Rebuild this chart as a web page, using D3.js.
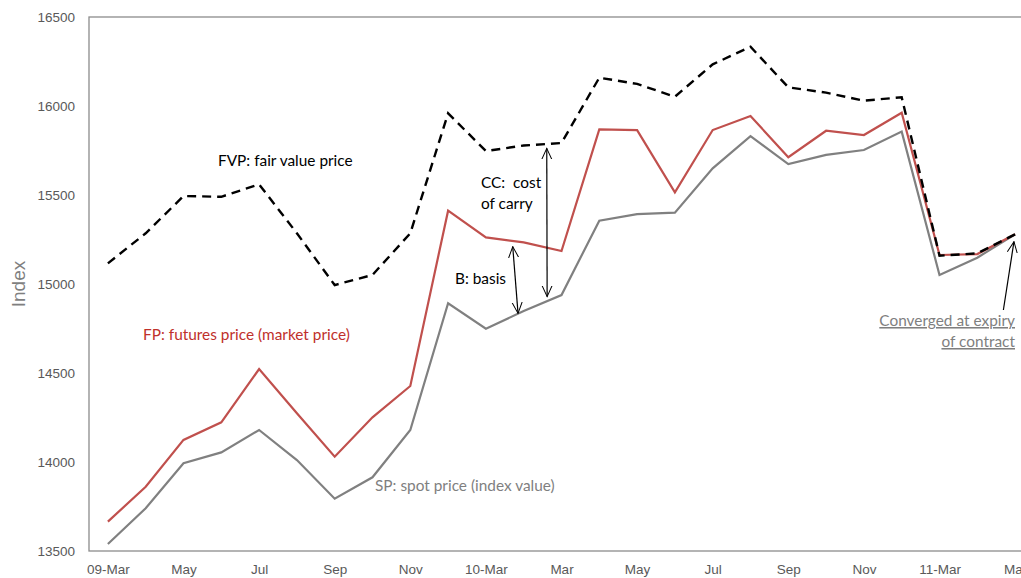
<!DOCTYPE html>
<html>
<head>
<meta charset="utf-8">
<script src="https://cdn.jsdelivr.net/npm/d3@7"></script>
<style>
  body { margin: 0; background: #fff; }
  svg { display: block; }
  .note { font-family: Lato, "Open Sans", sans-serif; font-size: 15.4px; }
</style>
</head>
<body>
<svg width="1021" height="578"></svg>
<script>
// monthly points, Mar 2009 .. Mar 2011
const tickLabels = ['09-Mar', 'May', 'Jul', 'Sep', 'Nov', '10-Mar', 'Mar', 'May', 'Jul', 'Sep', 'Nov', '11-Mar', 'Mar'];

const spotPrice = [13539, 13740, 13993, 14054, 14180, 14011, 13794, 13914, 14180, 14892,
    14749, 14848, 14938, 15356, 15393, 15401, 15650, 15831, 15674, 15725,
    15753, 15856, 15051, 15148, 15279];

const futuresPrice = [13665, 13861, 14124, 14223, 14522, 14274, 14030, 14251, 14427, 15412,
    15262, 15234, 15185, 15869, 15864, 15515, 15865, 15944, 15712, 15861,
    15837, 15962, 15163, 15168, 15279];

const fairValue = [15116, 15285, 15494, 15490, 15560, 15285, 14994, 15051, 15285, 15959,
    15747, 15778, 15792, 16159, 16124, 16052, 16234, 16333, 16105, 16075,
    16030, 16049, 15159, 15172, 15279];

const yTicks = [13500, 14000, 14500, 15000, 15500, 16000, 16500];

const svg = d3.select('svg');

const margin = { top: 17, left: 89, bottom: 27 };
const height = 578;
const n = spotPrice.length;
const step = 37.8;

const x = d3.scaleLinear()
    .domain([-0.5, n - 0.5])
    .range([margin.left, margin.left + n * step]);

const y = d3.scaleLinear()
    .domain([13500, 16500])
    .range([height - margin.bottom, margin.top]);

// plot area border (runs off the right side like the original crop)
svg.append('rect')
    .attr('x', x(-0.5))
    .attr('y', y(16500))
    .attr('width', x(n - 0.5) - x(-0.5))
    .attr('height', y(13500) - y(16500))
    .attr('fill', 'none')
    .attr('stroke', '#8c8c8c')
    .attr('stroke-width', 1.3);

// axes
svg.append('g')
    .attr('transform', `translate(${margin.left},0)`)
    .call(d3.axisLeft(y).tickValues(yTicks).tickSize(0).tickPadding(14).tickFormat(d3.format('d')))
    .call(g => g.select('.domain').remove())
    .selectAll('text')
    .attr('fill', '#595959')
    .style('font-family', '"Liberation Sans", Arial, sans-serif')
    .style('font-size', '13.5px');

svg.append('g')
    .attr('transform', `translate(0,${y(13500)})`)
    .call(d3.axisBottom(x)
        .tickValues(tickLabels.map((d, i) => i * 2))
        .tickSize(0)
        .tickPadding(13)
        .tickFormat((d, i) => tickLabels[i]))
    .call(g => g.select('.domain').remove())
    .selectAll('text')
    .attr('fill', '#595959')
    .style('font-family', '"Liberation Sans", Arial, sans-serif')
    .style('font-size', '13.5px');

svg.append('text')
    .attr('transform', `translate(25,${y(15000)}) rotate(-90)`)
    .attr('text-anchor', 'middle')
    .attr('fill', '#7f7f7f')
    .style('font-family', '"Liberation Sans", Arial, sans-serif')
    .style('font-size', '19px')
    .text('Index');

// lines
const line = d3.line()
    .x((d, i) => x(i))
    .y(d => y(d));

svg.append('path')
    .datum(spotPrice)
    .attr('d', line)
    .attr('fill', 'none')
    .attr('stroke', '#808080')
    .attr('stroke-width', 2.2);

svg.append('path')
    .datum(futuresPrice)
    .attr('d', line)
    .attr('fill', 'none')
    .attr('stroke', '#c0504d')
    .attr('stroke-width', 2.2);

svg.append('path')
    .datum(fairValue)
    .attr('d', line)
    .attr('fill', 'none')
    .attr('stroke', '#000')
    .attr('stroke-width', 2.4)
    .attr('stroke-dasharray', '9,6');

// arrows
const defs = svg.append('defs');
defs.append('marker')
    .attr('id', 'head')
    .attr('viewBox', '0 -6 12 12')
    .attr('refX', 11)
    .attr('refY', 0)
    .attr('markerWidth', 12)
    .attr('markerHeight', 12)
    .attr('markerUnits', 'userSpaceOnUse')
    .attr('orient', 'auto-start-reverse')
    .append('path')
    .attr('d', 'M0,-5L11,0L0,5')
    .attr('fill', 'none')
    .attr('stroke', '#000')
    .attr('stroke-width', 1);

const arrows = [
    { x1: 10.71, v1: 15210, x2: 10.85, v2: 14835, both: true },
    { x1: 11.61, v1: 15762, x2: 11.62, v2: 14929, both: true },
    { x1: 23.69, v1: 14854, x2: 23.97, v2: 15238, both: false }
];

svg.append('g')
    .selectAll('line')
    .data(arrows)
    .enter().append('line')
    .attr('x1', d => x(d.x1))
    .attr('y1', d => y(d.v1))
    .attr('x2', d => x(d.x2))
    .attr('y2', d => y(d.v2))
    .attr('stroke', '#000')
    .attr('stroke-width', 1.2)
    .attr('marker-end', 'url(#head)')
    .attr('marker-start', d => d.both ? 'url(#head)' : null);

// annotation text
const notes = [
    { t: 'FVP: fair value price', x: 218, y: 166, c: '#000', a: 'start' },
    { t: 'FP: futures price (market price)', x: 143, y: 340, c: '#c0302b', a: 'start' },
    { t: 'SP: spot price (index value)', x: 375, y: 491, c: '#7f7f7f', a: 'start' },
    { t: 'B: basis', x: 455, y: 284, c: '#000', a: 'start' },
    { t: 'CC:  cost', x: 481, y: 188, c: '#000', a: 'start' },
    { t: 'of carry', x: 481, y: 209, c: '#000', a: 'start' },
    { t: 'Converged at expiry', x: 1015, y: 326, c: '#7f7f7f', a: 'end', u: true },
    { t: 'of contract', x: 1015, y: 347, c: '#7f7f7f', a: 'end', u: true }
];

svg.append('g')
    .selectAll('text')
    .data(notes)
    .enter().append('text')
    .attr('class', 'note')
    .attr('x', d => d.x)
    .attr('y', d => d.y)
    .attr('fill', d => d.c)
    .attr('text-anchor', d => d.a)
    .style('white-space', 'pre')
    .attr('text-decoration', d => d.u ? 'underline' : null)
    .text(d => d.t);
</script>
</body>
</html>
